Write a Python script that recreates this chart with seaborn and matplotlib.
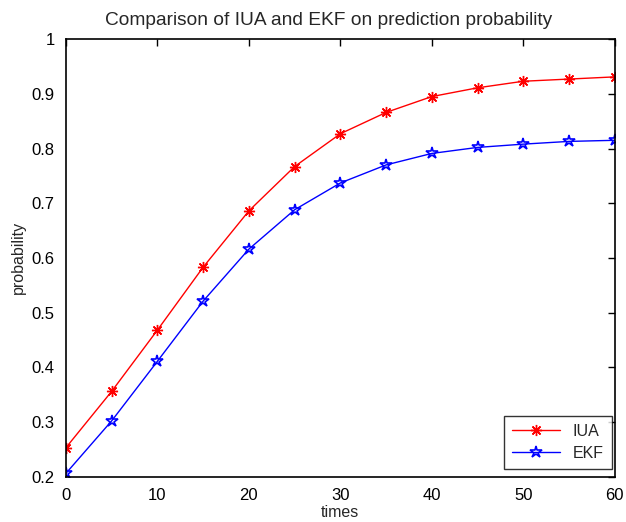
import matplotlib.pyplot as plt
import seaborn as sns
import numpy as np

# data
times = [0, 5, 10, 15, 20, 25, 30, 35, 40, 45, 50, 55, 60]
iua = [0.253, 0.356, 0.468, 0.583, 0.686, 0.767, 0.827, 0.866, 0.895, 0.911, 0.923, 0.927, 0.931]
ekf = [0.206, 0.302, 0.411, 0.521, 0.616, 0.688, 0.737, 0.770, 0.791, 0.802, 0.808, 0.813, 0.815]
x_ticks = [0, 10, 20, 30, 40, 50, 60]
y_ticks = [0.2, 0.3, 0.4, 0.5, 0.6, 0.7, 0.8, 0.9, 1.0]
y_labels = ['0.2', '0.3', '0.4', '0.5', '0.6', '0.7', '0.8', '0.9', '1']

sns.set_style("white")
plt.rcParams['font.family'] = ['Liberation Sans', 'DejaVu Sans']

fig = plt.figure(figsize=(6.26, 5.22), dpi=100)
ax = fig.add_axes([0.1054, 0.087, 0.8766, 0.838])

sns.lineplot(x=times, y=iua, ax=ax, color='red', linewidth=1, marker=(8, 2, 0),
             markersize=8, markeredgewidth=1, markeredgecolor='red', label='IUA')
sns.lineplot(x=times, y=ekf, ax=ax, color='blue', linewidth=1, marker='*',
             markersize=9, markeredgewidth=1.2, markeredgecolor='blue',
             markerfacecolor='none', label='EKF')

ax.set_xlim(0, 60)
ax.set_ylim(0.2, 1)
ax.set_xticks(x_ticks)
ax.set_yticks(y_ticks)
ax.set_yticklabels(y_labels)
ax.tick_params(direction='in', length=5, width=1, top=True, right=True,
               labelsize=12, colors='black')
ax.tick_params(axis='x', pad=8)
ax.tick_params(axis='y', pad=8)
for s in ax.spines.values():
    s.set_linewidth(1.2)
    s.set_color('black')

ax.set_title('Comparison of IUA and EKF on prediction probability', fontsize=13.8,
             pad=10, x=0.479)
ax.set_xlabel('times', fontsize=11.5, labelpad=2)
ax.set_ylabel('probability', fontsize=11.5, labelpad=4)

leg = ax.legend(loc='lower right', bbox_to_anchor=(0.9945, 0.0176), fontsize=11.5,
                frameon=True, fancybox=False, edgecolor='black', borderaxespad=0,
                handlelength=3, labelspacing=0.45, borderpad=0.5)
leg.get_frame().set_linewidth(1)

fig.savefig('out.png', dpi=100)
